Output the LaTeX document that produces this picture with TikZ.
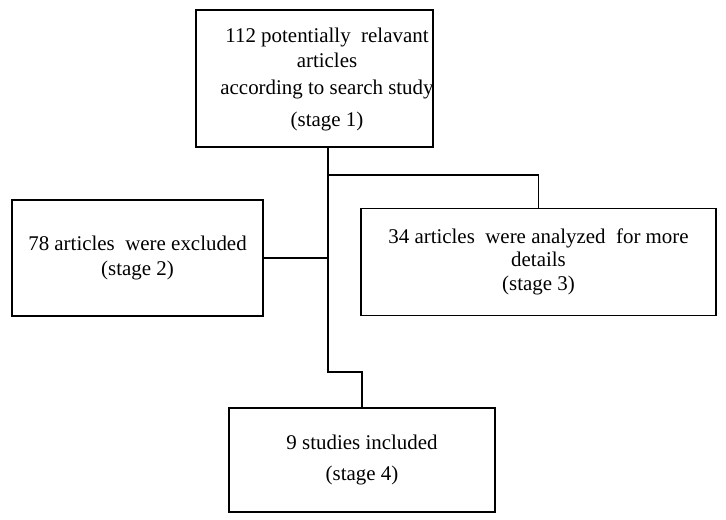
\documentclass[tikz,border=0pt]{standalone}
\usepackage{fontspec}
\setmainfont{Liberation Serif}
\begin{document}
\begin{tikzpicture}[x=1bp,y=-1bp,
  boxnode/.style={draw,line width=1.6pt,rectangle,inner sep=0pt,align=center,
    font=\fontsize{21}{23}\selectfont},
  textnode/.style={inner sep=0pt,align=center,font=\fontsize{21}{23}\selectfont},
  link/.style={line width=1.6pt}]
\useasboundingbox (0,0) rectangle (726,520);
\node[boxnode,minimum width=237bp,minimum height=137bp] (b1) at (314.5,78.5) {};
\node[textnode] (b1t) at (327,79.5)
  {112 potentially\ \ relavant\\[2pt] articles\\[5pt] according to search study\\[9pt] (stage 1)};
\node[boxnode,minimum width=251bp,minimum height=116bp] (b2) at (137.5,258)
  {78 articles\ \ were excluded\\[3pt] (stage 2)};
\node[boxnode,minimum width=355bp,minimum height=107bp] (b3) at (538.5,262)
  {34 articles\ \ were analyzed\ \ for more\\ details\\[1pt] (stage 3)};
\node[boxnode,minimum width=266bp,minimum height=104bp] (b4) at (362,460)
  {9 studies included\\[9pt] (stage 4)};
\coordinate (tr) at (328,0);
\coordinate (j) at (328,372);
\coordinate (br) at (328,175);
\draw[link] (b1.south -| tr) -- (j) -| (b4.north);
\draw[link] (br) -| (b3.north);
\draw[link] (b2.east) -- (b2.east -| tr);
\end{tikzpicture}
\end{document}
